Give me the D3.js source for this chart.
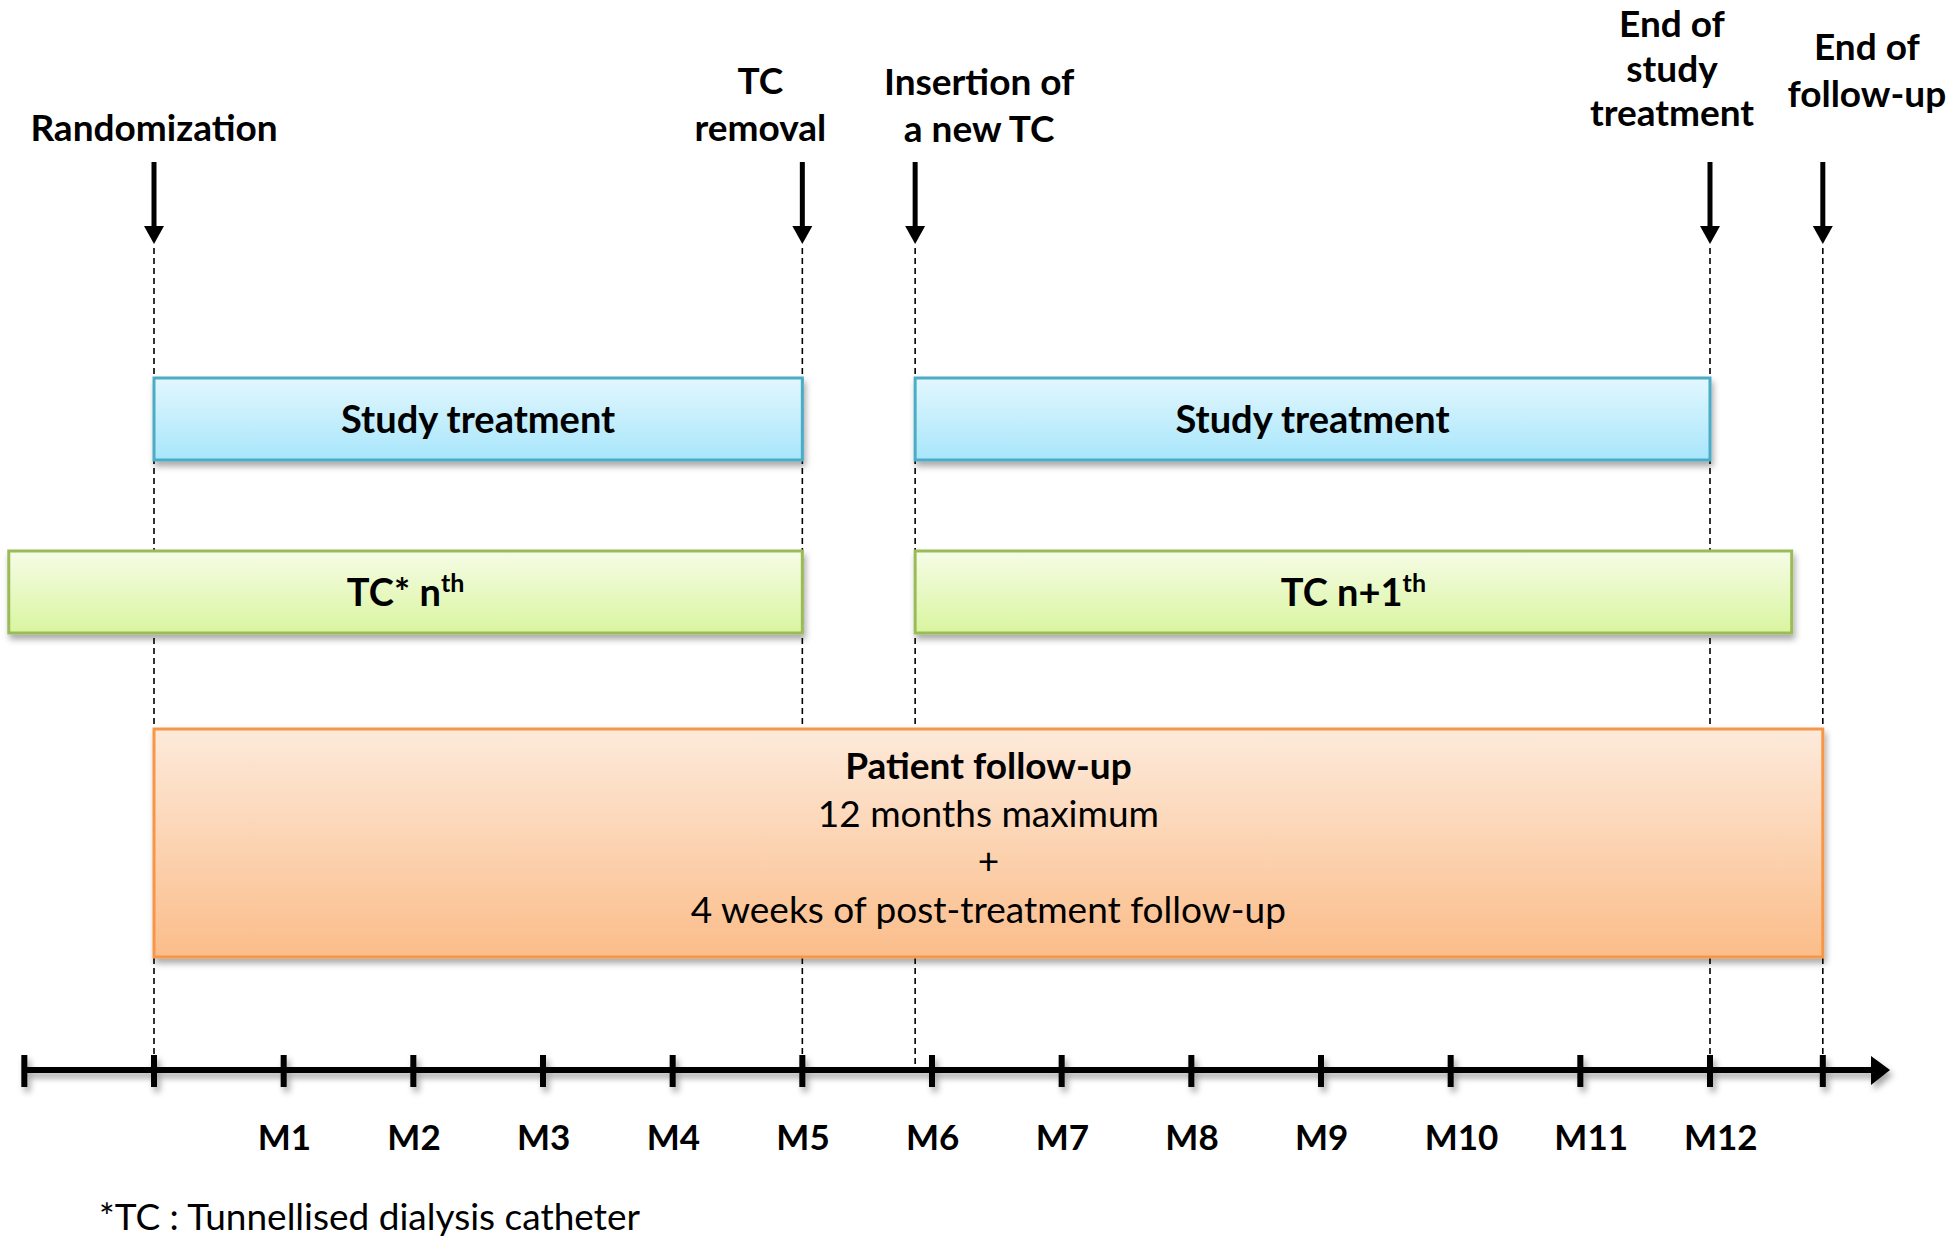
<!DOCTYPE html>
<html>
<head>
<meta charset="utf-8">
<script src="https://cdn.jsdelivr.net/npm/d3@7"></script>
<style>
  html, body { margin: 0; padding: 0; background: #ffffff; }
  svg { display: block; }
  text { font-family: Lato, "Open Sans", sans-serif; fill: #000; }
</style>
</head>
<body>
<svg id="chart" width="1946" height="1239"></svg>
<script>
// ---------------- DATA ----------------
const monthTicks = [-1, 0, 1, 2, 3, 4, 5, 6, 7, 8, 9, 10, 11, 12];
const monthLabels = ["M1", "M2", "M3", "M4", "M5", "M6", "M7", "M8", "M9", "M10", "M11", "M12"];
const monthLabelValues = [1, 2, 3, 4, 5, 6, 7, 8, 9, 10, 11, 12];

const eventLabels = [
  ["Randomization"],
  ["TC", "removal"],
  ["Insertion of", "a new TC"],
  ["End of", "study", "treatment"],
  ["End of", "follow-up"]
];
const eventMonths = [0, 5, 5.87, 12, 12.87];

const barLabels = ["Study treatment", "Study treatment", "TC* n", "TC n+1"];
const barSuperscripts = ["", "", "th", "th"];
const barStart = [0, 5.87, -1.12, 5.87];
const barEnd = [5, 12, 5, 12.63];
const barRows = ["treatment", "treatment", "catheter", "catheter"];

const followUpLines = ["Patient follow-up", "12 months maximum", "+", "4 weeks of post-treatment follow-up"];
const followUpStart = 0;
const followUpEnd = 12.87;

const footnote = "*TC : Tunnellised dialysis catheter";

// ---------------- LAYOUT ----------------
const W = 1946, H = 1239;
const axisY = 1070;
const rowBox = { treatment: [378, 460], catheter: [551, 633], followup: [729, 957] };
const rowStyle = {
  treatment: { top: "#e2f7fe", bottom: "#a8e6fb", stroke: "#4bacc6" },
  catheter:  { top: "#f6fce7", bottom: "#d9f59f", stroke: "#9bbb59" },
  followup:  { top: "#fdeadb", bottom: "#fbbd8a", stroke: "#f79646" }
};
const headerDx = [0, -42, 64, -38, 44];
const headerBottom = [141, 141, 142, 126, 107];
const headerLineGap = [47, 47, 47, 44.5, 47];

const x = d3.scaleLinear().domain([0, 12]).range([154, 1710]);

const svg = d3.select("#chart");
svg.append("rect").attr("width", W).attr("height", H).attr("fill", "#fff");

const defs = svg.append("defs");
const f = defs.append("filter").attr("id", "shadow")
  .attr("x", "-5%").attr("y", "-30%").attr("width", "110%").attr("height", "170%");
f.append("feDropShadow").attr("dx", 2).attr("dy", 5).attr("stdDeviation", 3)
  .attr("flood-color", "#000").attr("flood-opacity", 0.33);
const fa = defs.append("filter").attr("id", "shadowAxis")
  .attr("x", "-5%").attr("y", "-100%").attr("width", "110%").attr("height", "300%");
fa.append("feDropShadow").attr("dx", 3).attr("dy", 5).attr("stdDeviation", 3)
  .attr("flood-color", "#000").attr("flood-opacity", 0.35);

Object.keys(rowStyle).forEach(k => {
  const g = defs.append("linearGradient").attr("id", "grad-" + k)
    .attr("x1", 0).attr("y1", 0).attr("x2", 0).attr("y2", 1);
  g.append("stop").attr("offset", "0%").attr("stop-color", rowStyle[k].top);
  g.append("stop").attr("offset", "100%").attr("stop-color", rowStyle[k].bottom);
});

// dashed guide lines
svg.append("g").selectAll("line").data(eventMonths).join("line")
  .attr("x1", d => x(d)).attr("x2", d => x(d))
  .attr("y1", 248).attr("y2", axisY - 3)
  .attr("stroke", "#000").attr("stroke-width", 1.6)
  .attr("stroke-dasharray", "6,4");

// bars
const bars = barLabels.map((l, i) => ({ label: l, sup: barSuperscripts[i], s: barStart[i], e: barEnd[i], row: barRows[i] }));
const bg = svg.append("g");
bg.selectAll("rect").data(bars).join("rect")
  .attr("x", d => x(d.s)).attr("width", d => x(d.e) - x(d.s))
  .attr("y", d => rowBox[d.row][0]).attr("height", d => rowBox[d.row][1] - rowBox[d.row][0])
  .attr("fill", d => "url(#grad-" + d.row + ")")
  .attr("stroke", d => rowStyle[d.row].stroke).attr("stroke-width", 3)
  .attr("filter", "url(#shadow)");

const bt = bg.selectAll("text").data(bars).join("text")
  .attr("x", d => (x(d.s) + x(d.e)) / 2)
  .attr("y", d => (rowBox[d.row][0] + rowBox[d.row][1]) / 2 + 14)
  .attr("text-anchor", "middle")
  .attr("font-size", 38).attr("font-weight", 700);
bt.append("tspan").text(d => d.label);
bt.filter(d => d.sup).append("tspan").attr("dy", -14).attr("font-size", 25).text(d => d.sup);

// follow-up bar
svg.append("rect")
  .attr("x", x(followUpStart)).attr("width", x(followUpEnd) - x(followUpStart))
  .attr("y", rowBox.followup[0]).attr("height", rowBox.followup[1] - rowBox.followup[0])
  .attr("fill", "url(#grad-followup)")
  .attr("stroke", rowStyle.followup.stroke).attr("stroke-width", 3)
  .attr("filter", "url(#shadow)");
const fuY = [779, 827, 874, 923];
svg.append("g").selectAll("text").data(followUpLines).join("text")
  .attr("x", (x(followUpStart) + x(followUpEnd)) / 2)
  .attr("y", (d, i) => fuY[i])
  .attr("text-anchor", "middle")
  .attr("font-size", 37)
  .attr("font-weight", (d, i) => i === 0 ? 700 : 400)
  .text(d => d);

// time axis
const ax = svg.append("g").attr("filter", "url(#shadowAxis)");
ax.append("line").attr("x1", x(-1)).attr("x2", 1873).attr("y1", axisY).attr("y2", axisY)
  .attr("stroke", "#000").attr("stroke-width", 6);
ax.append("path").attr("d", `M1871,${axisY - 14}L1890,${axisY}L1871,${axisY + 15}Z`).attr("fill", "#000");
ax.selectAll("rect.tick").data(monthTicks.concat([followUpEnd])).join("rect")
  .attr("class", "tick")
  .attr("x", d => x(d) - 3).attr("width", 6)
  .attr("y", axisY - 15).attr("height", 32)
  .attr("fill", "#000");

svg.append("g").selectAll("text").data(monthLabels).join("text")
  .attr("x", (d, i) => x(monthLabelValues[i]) - 26)
  .attr("y", 1150)
  .attr("font-size", 35).attr("font-weight", 700)
  .text(d => d);

// event arrows
const arr = svg.append("g");
arr.selectAll("line").data(eventMonths).join("line")
  .attr("x1", d => x(d)).attr("x2", d => x(d))
  .attr("y1", 162).attr("y2", 230)
  .attr("stroke", "#000").attr("stroke-width", 5);
arr.selectAll("path").data(eventMonths).join("path")
  .attr("d", d => `M${x(d) - 10},226L${x(d) + 10},226L${x(d)},244Z`)
  .attr("fill", "#000");

// event labels
const hg = svg.append("g");
eventLabels.forEach((lines, i) => {
  const t = hg.append("text")
    .attr("text-anchor", "middle")
    .attr("font-size", 37).attr("font-weight", 700);
  lines.forEach((ln, j) => {
    t.append("tspan")
      .attr("x", x(eventMonths[i]) + headerDx[i])
      .attr("y", headerBottom[i] - (lines.length - 1 - j) * headerLineGap[i])
      .text(ln);
  });
});

// footnote
svg.append("text").attr("x", 99).attr("y", 1230)
  .attr("font-size", 37).attr("font-weight", 400)
  .text(footnote);
</script>
</body>
</html>
